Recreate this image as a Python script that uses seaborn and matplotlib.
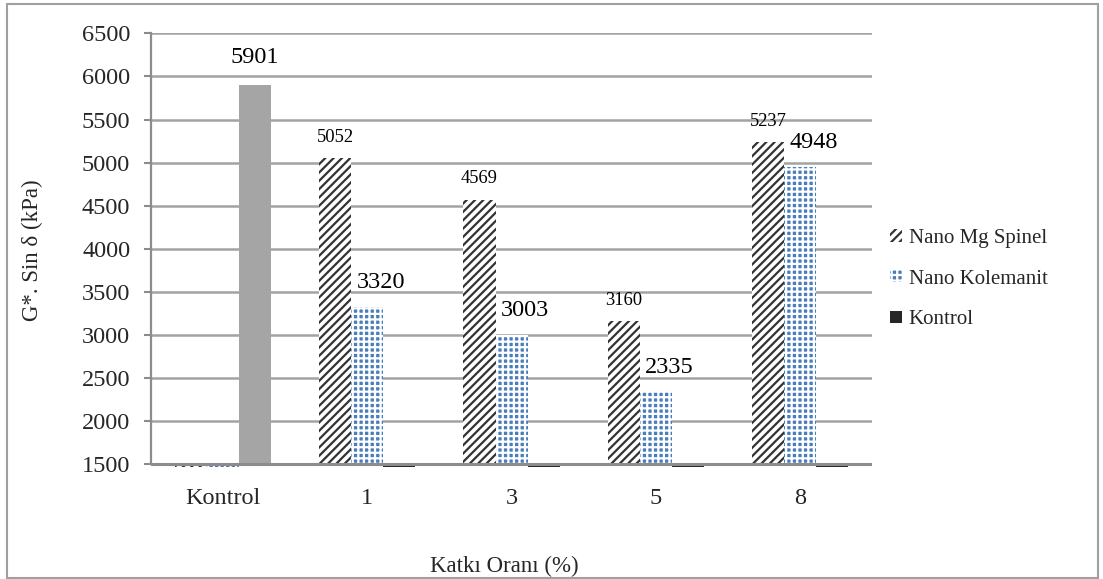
import matplotlib
matplotlib.use("Agg")
import matplotlib.pyplot as plt
import seaborn as sns
import pandas as pd
from matplotlib.patches import Rectangle, Patch

# Data
categories = ["Kontrol", "1", "3", "5", "8"]
series_names = ["Nano Mg Spinel", "Nano Kolemanit", "Kontrol"]
mg_spinel = [0, 5052, 4569, 3160, 5237]
kolemanit = [0, 3320, 3003, 2335, 4948]
kontrol = [5901, 0, 0, 0, 0]
y_ticks = [1500, 2000, 2500, 3000, 3500, 4000, 4500, 5000, 5500, 6000, 6500]

# Bars grow from the value axis crossing (the lowest tick), so zero values
# show as a thin strip just under the axis line.
axis_base = y_ticks[0]

df = pd.DataFrame({
    "Katkı": categories * 3,
    "Seri": [n for n in series_names for _ in categories],
    "Değer": mg_spinel + kolemanit + kontrol,
})
df["Yükseklik"] = df["Değer"] - axis_base

sns.set_style("white")
plt.rcParams["font.family"] = ["Liberation Serif", "DejaVu Serif"]
plt.rcParams["hatch.linewidth"] = 1.6

DARK = "#333333"
BLUE = "#4a7ebb"
GRAY_BAR = "#a5a5a5"
BLACK = "#262626"
AXIS_GRAY = "#8c8c8c"
GRID_GRAY = "#a3a3a3"

fig = plt.figure(figsize=(11.03, 5.79), dpi=100)
ax = fig.add_axes([0.1369, 0.1934, 0.6537, 0.7496])

sns.barplot(data=df, x="Katkı", y="Yükseklik", hue="Seri", order=categories,
            hue_order=series_names, width=0.666, saturation=1,
            palette=[DARK, BLUE, BLACK], linewidth=0, legend=False,
            bottom=axis_base, ax=ax)

mg_c, ko_c, kt_c = ax.containers[:3]
for p in mg_c:
    # dark diagonal stripes on white
    p.set_facecolor("white")
    p.set_edgecolor(DARK)
    p.set_hatch("////")
    p.set_linewidth(0)
for p in ko_c:
    # blue squares separated by a white grid
    p.set_facecolor(BLUE)
    p.set_edgecolor("white")
    p.set_hatch("+++")
    p.set_linewidth(0)
for i, p in enumerate(kt_c):
    p.set_facecolor(GRAY_BAR if i == 0 else BLACK)
    p.set_linewidth(0)

# Axes styling
ax.set_ylim(1465, 6505)
ax.set_yticks(y_ticks)
ax.yaxis.grid(True, color=GRID_GRAY, lw=1.8)
ax.xaxis.grid(False)
ax.set_axisbelow(True)
for s in ["top", "right", "bottom"]:
    ax.spines[s].set_visible(False)
ax.spines["left"].set_bounds(1500, 6500)
ax.spines["left"].set_color(AXIS_GRAY)
ax.spines["left"].set_linewidth(1.6)
ax.axhline(axis_base, color=AXIS_GRAY, lw=2.2, zorder=5)

ax.tick_params(axis="y", length=5, width=1.5, color=AXIS_GRAY, direction="out",
               pad=10, labelsize=17.5, left=True)
ax.tick_params(axis="x", length=0, pad=15, labelsize=17.5)

ax.set_xlabel("Katkı Oranı (%)", fontsize=16.5, va="center")
ax.xaxis.set_label_coords(0.49, -0.228)
ax.set_ylabel("G*. Sin δ (kPa)", fontsize=16.5, va="center", ha="center")
ax.yaxis.set_label_coords(-0.164, 0.5)

# Value labels
def label_bars(container, values, dx, dy, size):
    for p, v in zip(container, values):
        if v:
            xc = p.get_x() + p.get_width() / 2
            ax.annotate(f"{v}", (xc, v), xytext=(dx, dy), textcoords="offset points",
                        ha="center", va="center", fontsize=size, color="black")

label_bars(mg_c, mg_spinel, 0, 15, 13.3)
label_bars(ko_c, kolemanit, 10, 17.5, 17.5)
label_bars(kt_c, kontrol, 0, 20, 17.5)

# Legend, using the same typeface as the axis text
legend_font = ax.xaxis.label.get_fontproperties().copy()
legend_font.set_size(15)
handles = [
    Patch(facecolor="white", edgecolor=DARK, hatch="////", linewidth=0),
    Patch(facecolor=BLUE, edgecolor="white", hatch="+++", linewidth=0),
    Patch(facecolor=BLACK, edgecolor=BLACK, linewidth=0),
]
fig.legend(handles, series_names, loc="center left",
           bbox_to_anchor=(0.807, 0.518), bbox_transform=fig.transFigure,
           frameon=False, prop=legend_font,
           handlelength=0.55, handleheight=0.55, handletextpad=0.35,
           labelspacing=1.05, borderpad=0, borderaxespad=0)

# Outer frame
fig.patches.append(Rectangle((0.0063, 0.0017), 0.9892, 0.9913, transform=fig.transFigure,
                             fill=False, edgecolor="#a0a0a0", lw=1.5))

fig.savefig("out.png", dpi=100)
